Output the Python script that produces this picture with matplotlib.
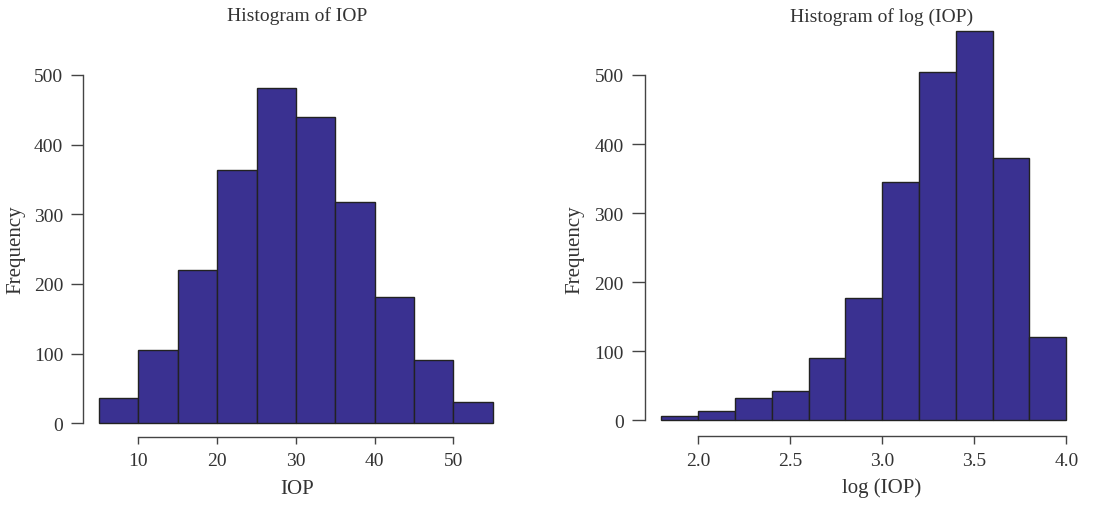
import matplotlib.pyplot as plt
import numpy as np
import matplotlib
matplotlib.rcParams.update({'font.family': 'Liberation Serif', 'text.color': '#333333',
                            'xtick.color': '#444444', 'ytick.color': '#444444',
                            'xtick.labelcolor': '#333333', 'ytick.labelcolor': '#333333'})

# histogram of IOP
iop_breaks = [5, 10, 15, 20, 25, 30, 35, 40, 45, 50, 55]
iop_counts = [37, 105, 220, 363, 481, 439, 318, 182, 91, 30]
iop_xticks = [10, 20, 30, 40, 50]

# histogram of log(IOP)
log_breaks = [1.8, 2.0, 2.2, 2.4, 2.6, 2.8, 3.0, 3.2, 3.4, 3.6, 3.8, 4.0]
log_counts = [7, 14, 33, 42, 90, 177, 345, 504, 563, 380, 121]
log_xticks = [2.0, 2.5, 3.0, 3.5, 4.0]
log_xticklabels = ['2.0', '2.5', '3.0', '3.5', '4.0']

yticks = [0, 100, 200, 300, 400, 500]
fill = '#3a3191'
edge = '#222222'
W, H = 1105, 506


def r_hist(ax, breaks, counts, xticks, xlabels, ytick_len, xtick_len):
    """draws an R-like histogram: 4% padding and detached axis lines"""
    breaks = np.array(breaks)
    ax.bar(breaks[:-1], counts, width=np.diff(breaks), align='edge',
           color=fill, edgecolor=edge, linewidth=1.0)
    xr = breaks[-1] - breaks[0]
    ax.set_xlim(breaks[0] - 0.04 * xr, breaks[-1] + 0.04 * xr)
    yr = max(counts)
    ax.set_ylim(-0.04 * yr, 1.04 * yr)
    for s in ['top', 'right']:
        ax.spines[s].set_visible(False)
    for s in ['left', 'bottom']:
        ax.spines[s].set_color('#444444')
        ax.spines[s].set_linewidth(1.0)
    ax.spines['left'].set_bounds(yticks[0], yticks[-1])
    ax.spines['bottom'].set_bounds(xticks[0], xticks[-1])
    ax.set_yticks(yticks)
    ax.set_xticks(xticks)
    ax.set_xticklabels(xlabels)
    ax.tick_params(axis='y', length=ytick_len, width=1.0, pad=6, labelsize=14)
    ax.tick_params(axis='x', length=xtick_len, width=1.0, pad=6, labelsize=14)


fig = plt.figure(figsize=(W / 100, H / 100), dpi=100)

ax1 = fig.add_axes([83.3 / W, (H - 437.7) / H, (508.5 - 83.3) / W, (437.7 - 75.8) / H])
r_hist(ax1, iop_breaks, iop_counts, iop_xticks, [str(t) for t in iop_xticks], 8.4, 5.3)

ax2 = fig.add_axes([645.0 / W, (H - 437.0) / H, (1082.5 - 645.0) / W, (437.0 - 16.9) / H])
r_hist(ax2, log_breaks, log_counts, log_xticks, log_xticklabels, 9.4, 5.8)

# titles and labels sit at fixed positions in the margins like in R
fig.text(296.7 / W, 1 - 16 / H, 'Histogram of IOP', ha='center', va='center', fontsize=14)
fig.text(882 / W, 1 - 17 / H, 'Histogram of log (IOP)', ha='center', va='center', fontsize=14)
fig.text(296.7 / W, 1 - 490 / H, 'IOP', ha='center', va='center', fontsize=15)
fig.text(882 / W, 1 - 488 / H, 'log (IOP)', ha='center', va='center', fontsize=15)
fig.text(16 / W, 1 - 250 / H, 'Frequency', ha='center', va='center', rotation=90, fontsize=15)
fig.text(575 / W, 1 - 250 / H, 'Frequency', ha='center', va='center', rotation=90, fontsize=15)

fig.savefig('out.png', dpi=100)
